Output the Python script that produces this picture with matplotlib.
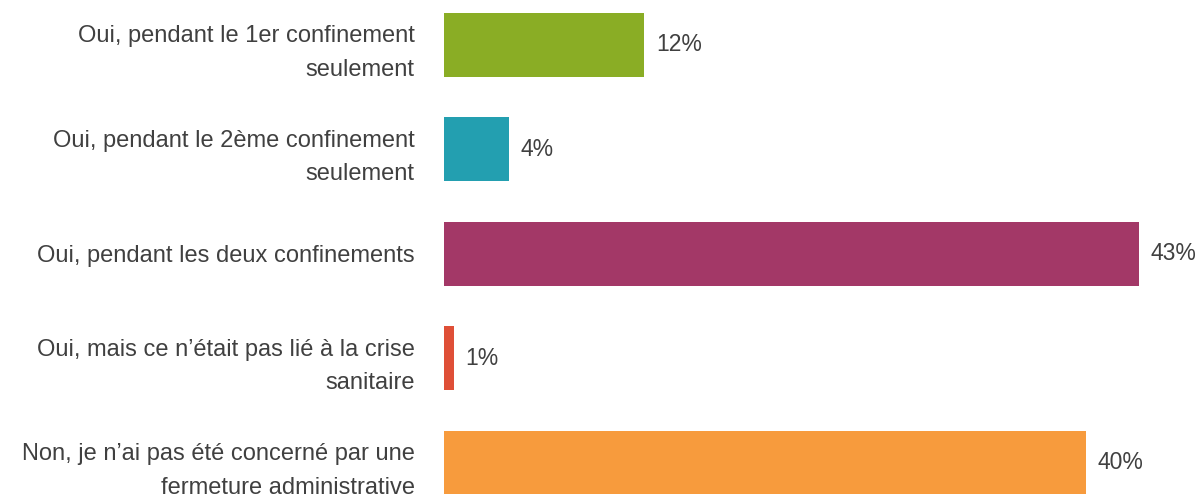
import matplotlib
matplotlib.use('Agg')
import matplotlib.pyplot as plt
import numpy as np

# Data
categories = [
    'Oui, pendant le 1er confinement\nseulement',
    'Oui, pendant le 2ème confinement\nseulement',
    'Oui, pendant les deux confinements',
    'Oui, mais ce n\u2019était pas lié à la crise\nsanitaire',
    'Non, je n\u2019ai pas été concerné par une\nfermeture administrative',
]
values = [12.4, 4.0, 43.0, 0.6, 39.7]
value_labels = ['12%', '4%', '43%', '1%', '40%']
colors = ['#8aad25', '#239fb0', '#a33867', '#df4f37', '#f79b3d']

text_color = '#404040'
plt.rcParams['font.family'] = ['Liberation Sans', 'DejaVu Sans']

figure = plt.figure(figsize=(12.02, 4.97), dpi=100)
ax = figure.add_axes([444 / 1202, 0, 758 / 1202, 1])

y = np.arange(len(categories))
ax.barh(y, values, height=0.61, color=colors)

ax.set_xlim(0, 43.0 * 758 / 695)
ax.set_ylim(4.33, -0.43)

# Value labels
for yi, v, lab in zip(y, values, value_labels):
    ax.annotate(lab, (v, yi), xytext=(8.5, 0), textcoords='offset points',
                ha='left', va='center', fontsize=16.5, color=text_color,
                annotation_clip=False)

# Category labels
ax.set_yticks(y)
ax.set_yticklabels(categories, fontsize=17, color=text_color,
                   linespacing=1.68)
ax.tick_params(axis='y', length=0, pad=21)
ax.set_xticks([])

# Style axes
for side in ['top', 'right', 'bottom', 'left']:
    ax.spines[side].set_visible(False)

figure.savefig('out.png', dpi=100)
